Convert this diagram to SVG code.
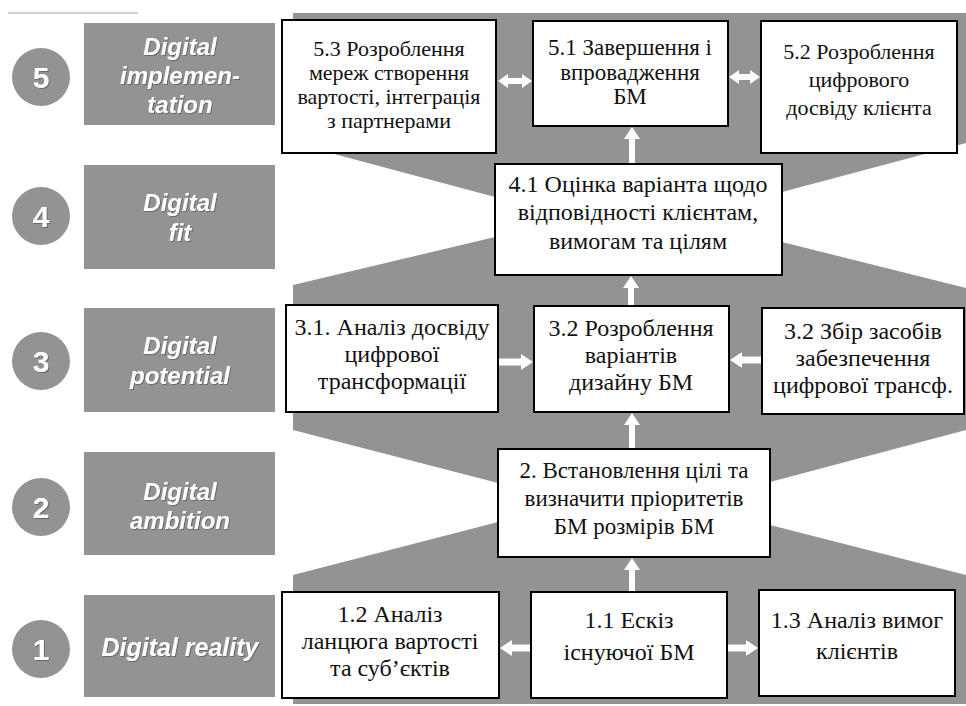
<svg xmlns="http://www.w3.org/2000/svg" width="966" height="706" viewBox="0 0 966 706">
<defs>
<filter id="sh" x="-10%" y="-10%" width="130%" height="130%">
<feDropShadow dx="1" dy="1" stdDeviation="0.6" flood-color="#555" flood-opacity="0.7"/>
</filter>
</defs>
<style>
.bg{fill:#939393}
.lvl{fill:#939393}
.num{font-family:"Liberation Sans",Arial,sans-serif;font-weight:bold;font-size:30px;fill:#fff;text-anchor:middle}
.lab{font-family:"Liberation Sans",Arial,sans-serif;font-weight:bold;font-style:italic;font-size:24px;fill:#fff;text-anchor:middle}
.box{fill:#fff;stroke:#000;stroke-width:2}
.t{font-family:"Liberation Serif","Times New Roman",serif;font-size:22px;fill:#111;text-anchor:middle}
.arr{fill:#fff}
</style>
<rect width="966" height="706" fill="#fff"/>
<line x1="8" y1="13" x2="138" y2="13" stroke="#d2d2d2" stroke-width="2"/>
<path class="bg" d="M293,13 L966,13 L966,143 L782,192 L782,242 L966,288 L966,430 L770,482 L770,525 L966,575 L966,704 L293,704 L293,575 L498,522 L498,483 L293,430 L293,285 L495,237 L495,197 L293,143 Z"/>

<g id="level5">
<circle class="lvl" cx="41" cy="77" r="29"/>
<text class="num" x="41" y="88" filter="url(#sh)">5</text>
<rect class="lvl" x="84" y="23" width="191" height="102"/>
<text class="lab" filter="url(#sh)"><tspan x="180" y="55">Digital</tspan><tspan x="180" y="84">implemen-</tspan><tspan x="180" y="113">tation</tspan></text>
</g>
<g id="level4">
<circle class="lvl" cx="41" cy="216" r="29"/>
<text class="num" x="41" y="227" filter="url(#sh)">4</text>
<rect class="lvl" x="84" y="165" width="191" height="104"/>
<text class="lab" filter="url(#sh)"><tspan x="180" y="211">Digital</tspan><tspan x="180" y="241">fit</tspan></text>
</g>
<g id="level3">
<circle class="lvl" cx="41" cy="361" r="29"/>
<text class="num" x="41" y="372" filter="url(#sh)">3</text>
<rect class="lvl" x="84" y="308" width="191" height="104"/>
<text class="lab" filter="url(#sh)"><tspan x="180" y="354">Digital</tspan><tspan x="180" y="384">potential</tspan></text>
</g>
<g id="level2">
<circle class="lvl" cx="41" cy="507" r="29"/>
<text class="num" x="41" y="518" filter="url(#sh)">2</text>
<rect class="lvl" x="84" y="452" width="191" height="103"/>
<text class="lab" filter="url(#sh)"><tspan x="180" y="500">Digital</tspan><tspan x="180" y="529">ambition</tspan></text>
</g>
<g id="level1">
<circle class="lvl" cx="41" cy="649" r="29"/>
<text class="num" x="41" y="660" filter="url(#sh)">1</text>
<rect class="lvl" x="84" y="595" width="191" height="102"/>
<text class="lab" x="180" y="656" style="font-size:25px" filter="url(#sh)">Digital reality</text>
</g>

<g id="connectors">
<path class="arr" d="M498,81 L508,74 L508,78 L522,78 L522,74 L532,81 L522,88 L522,84 L508,84 L508,88 Z"/>
<path class="arr" d="M729,77 L739,70 L739,74 L750,74 L750,70 L760,77 L750,84 L750,80 L739,80 L739,84 Z"/>
<path class="arr" d="M629,164 L629,139 L624,139 L632,127 L640,139 L635,139 L635,164 Z"/>
<path class="arr" d="M628,306 L628,288 L623,288 L631,276 L639,288 L634,288 L634,306 Z"/>
<path class="arr" d="M499,358.5 L521,358.5 L521,354 L533,362 L521,370 L521,365.5 L499,365.5 Z"/>
<path class="arr" d="M761,356.5 L742,356.5 L742,352 L730,360 L742,368 L742,363.5 L761,363.5 Z"/>
<path class="arr" d="M629,449 L629,425 L624,425 L632,413 L640,425 L635,425 L635,449 Z"/>
<path class="arr" d="M629,592 L629,570 L624,570 L632,558 L640,570 L635,570 L635,592 Z"/>
<path class="arr" d="M530,644.5 L512,644.5 L512,640 L500,648 L512,656 L512,651.5 L530,651.5 Z"/>
<path class="arr" d="M728,644.5 L746,644.5 L746,640 L758,648 L746,656 L746,651.5 L728,651.5 Z"/>
</g>

<g id="n53">
<rect class="box" x="282" y="20" width="214" height="133"/>
<text class="t"><tspan x="389" y="56">5.3 Розроблення</tspan><tspan x="389" y="80">мереж створення</tspan><tspan x="389" y="104">вартості, інтеграція</tspan><tspan x="389" y="128">з партнерами</tspan></text>
</g>
<g id="n51">
<rect class="box" x="533" y="21" width="195" height="105"/>
<text class="t" style="font-size:23px"><tspan x="630" y="55">5.1 Завершення і</tspan><tspan x="630" y="80">впровадження</tspan><tspan x="630" y="104">БМ</tspan></text>
</g>
<g id="n52">
<rect class="box" x="761" y="21" width="196" height="132"/>
<text class="t"><tspan x="859" y="59">5.2 Розроблення</tspan><tspan x="859" y="87">цифрового</tspan><tspan x="859" y="115">досвіду клієнта</tspan></text>
</g>
<g id="n41">
<rect class="box" x="495" y="164" width="287" height="111"/>
<text class="t" style="font-size:24px"><tspan x="638" y="192">4.1 Оцінка варіанта щодо</tspan><tspan x="638" y="220">відповідності клієнтам,</tspan><tspan x="638" y="249">вимогам та цілям</tspan></text>
</g>
<g id="n31">
<rect class="box" x="286" y="305" width="212" height="107"/>
<text class="t" style="font-size:24px"><tspan x="392" y="335">3.1. Аналіз досвіду</tspan><tspan x="392" y="362">цифрової</tspan><tspan x="392" y="389">трансформації</tspan></text>
</g>
<g id="n32a">
<rect class="box" x="534" y="306" width="195" height="106"/>
<text class="t" style="font-size:24px"><tspan x="631" y="336">3.2 Розроблення</tspan><tspan x="631" y="363">варіантів</tspan><tspan x="631" y="390">дизайну БМ</tspan></text>
</g>
<g id="n32b">
<rect class="box" x="762" y="308" width="202" height="106"/>
<text class="t" style="font-size:24px"><tspan x="863" y="339">3.2 Збір засобів</tspan><tspan x="863" y="366">забезпечення</tspan><tspan x="863" y="393">цифрової трансф.</tspan></text>
</g>
<g id="n2">
<rect class="box" x="498" y="449" width="272" height="108"/>
<text class="t" style="font-size:23px"><tspan x="634" y="478">2. Встановлення цілі та</tspan><tspan x="634" y="506">визначити пріоритетів</tspan><tspan x="634" y="534">БМ розмірів БМ</tspan></text>
</g>
<g id="n12">
<rect class="box" x="282" y="592" width="217" height="106"/>
<text class="t" style="font-size:24px"><tspan x="390" y="622">1.2 Аналіз</tspan><tspan x="390" y="649">ланцюга вартості</tspan><tspan x="390" y="676">та суб’єктів</tspan></text>
</g>
<g id="n11">
<rect class="box" x="531" y="592" width="196" height="106"/>
<text class="t" style="font-size:24px"><tspan x="629" y="628">1.1 Ескіз</tspan><tspan x="629" y="660">існуючої БМ</tspan></text>
</g>
<g id="n13">
<rect class="box" x="759" y="590" width="196" height="106"/>
<text class="t" style="font-size:24px"><tspan x="857" y="628">1.3 Аналіз вимог</tspan><tspan x="857" y="659">клієнтів</tspan></text>
</g>
</svg>
